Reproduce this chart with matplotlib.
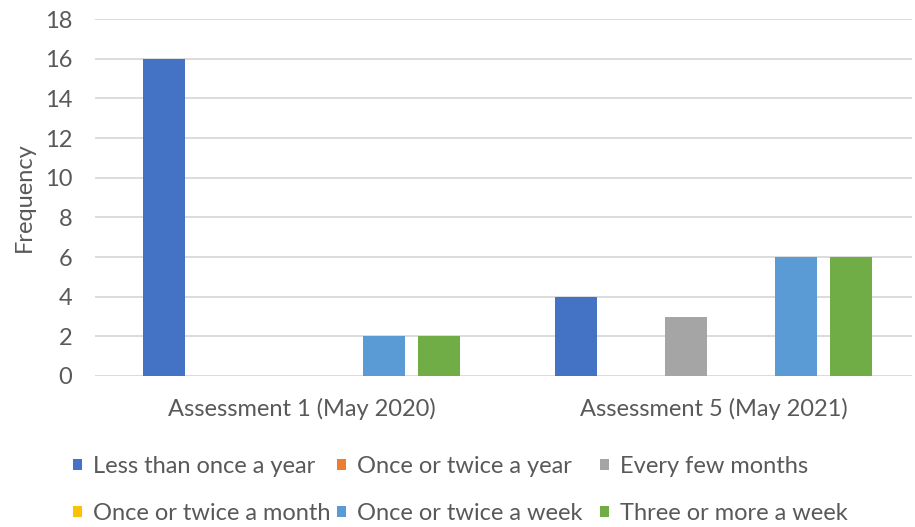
import numpy as np
import matplotlib
matplotlib.use("Agg")
import matplotlib.pyplot as plt

# data
groups = ["Assessment 1 (May 2020)", "Assessment 5 (May 2021)"]
series = ["Less than once a year", "Once or twice a year", "Every few months",
          "Once or twice a month", "Once or twice a week", "Three or more a week"]
values = [
    [16, 4],   # Less than once a year
    [0, 0],    # Once or twice a year
    [0, 3],    # Every few months
    [0, 0],    # Once or twice a month
    [2, 6],    # Once or twice a week
    [2, 6],    # Three or more a week
]
colours = ["#4472C4", "#ED7D31", "#A5A5A5", "#FFC000", "#5B9BD5", "#70AD47"]
yticks = list(range(0, 19, 2))

txt = "#595959"
grid = "#D9D9D9"
plt.rcParams['font.family'] = ['Lato', 'DejaVu Sans']
fs = 17

W, H = 915, 527
fig = plt.figure(figsize=(W / 100, H / 100), dpi=100)
left, right, top, bottom = 95, 912, 19, 376
ax = fig.add_axes([left / W, 1 - bottom / H, (right - left) / W, (bottom - top) / H])

x = np.arange(len(groups))
slot = 55 / 412
width = 42 / 412
bars = []
for i, (name, vals) in enumerate(zip(series, values)):
    b = ax.bar(x + (i - 2.5) * slot, vals, width, color=colours[i], label=name, zorder=3)
    bars.append(b)

ax.set_xlim((left - 301.5) / 412, (right - 301.5) / 412)
ax.set_ylim(0, 18)
ax.set_yticks(yticks)
ax.set_xticks(x)
ax.set_xticklabels(groups)
ax.yaxis.grid(True, color=grid, linewidth=1.3, zorder=0)
for s in ax.spines.values():
    s.set_visible(False)
ax.tick_params(axis='both', length=0, colors=txt, labelsize=fs)
ax.tick_params(axis='y', pad=16.5)
ax.tick_params(axis='x', pad=16)
ax.set_ylabel("Frequency", color=txt, fontsize=fs, labelpad=7)

# legend laid out as three columns like the original
col_x = [73, 337, 600]
for c in range(3):
    hs = [bars[c], bars[c + 3]]
    ls = [series[c], series[c + 3]]
    fig.legend(hs, ls, loc='center left', bbox_to_anchor=(col_x[c] / W, 1 - 490 / H),
               frameon=False, fontsize=fs, labelcolor=txt, borderpad=0,
               borderaxespad=0, handlelength=0.38, handleheight=0.38,
               handletextpad=0.47, labelspacing=1.1)

fig.savefig("out.png", dpi=100)
